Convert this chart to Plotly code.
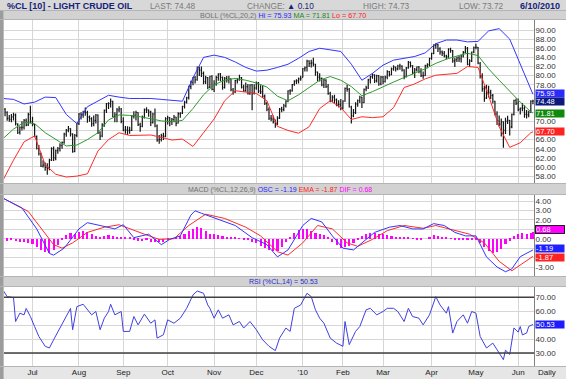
import plotly.graph_objects as go

W, H = 566, 379
def X(p): return p / W
def Y(p): return 1 - p / H

# ---------------- data ----------------
close_px = [
72.68, 72.04, 70.62, 70.47, 71.03, 71.37, 69.55, 67.50, 68.60, 68.67,
70.23, 69.16, 71.49, 69.89, 69.31, 66.73, 64.05, 62.93, 60.14, 60.41,
59.89, 59.69, 61.54, 64.02, 62.02, 63.56, 63.98, 64.72, 65.40, 67.22,
68.05, 68.38, 67.23, 63.35, 66.94, 69.45, 71.58, 71.42, 71.97, 71.94,
70.93, 70.60, 69.45, 70.16, 71.36, 67.51, 66.75, 69.19, 72.42, 73.89,
73.89, 74.37, 71.05, 71.43, 72.49, 72.74, 69.96, 68.05, 68.05, 67.96,
68.02, 71.10, 71.31, 71.94, 69.29, 68.86, 70.93, 72.51, 72.47, 72.04,
69.71, 71.55, 68.97, 65.89, 66.02, 66.84, 66.71, 70.61, 70.82, 69.95,
70.41, 70.88, 69.57, 71.69, 71.77, 73.27, 74.15, 75.18, 77.58, 78.53,
79.61, 79.09, 81.37, 81.19, 80.50, 78.68, 79.55, 77.46, 79.87, 77.00,
78.13, 79.60, 80.40, 79.62, 77.43, 79.43, 79.05, 79.28, 76.94, 76.35,
78.90, 79.14, 79.58, 77.46, 76.72, 77.56, 76.02, 77.96, 76.05, 77.28,
78.37, 76.60, 76.46, 75.47, 73.93, 72.62, 70.67, 70.54, 69.87, 69.51,
70.69, 72.66, 72.58, 73.36, 74.40, 76.67, 76.67, 78.05, 78.77, 78.87,
79.28, 79.36, 81.51, 81.77, 83.18, 82.66, 82.75, 82.52, 80.79, 79.65,
79.39, 78.00, 79.02, 77.62, 76.08, 74.54, 75.26, 74.71, 73.67, 73.64,
72.89, 74.43, 77.23, 76.98, 73.14, 71.19, 71.89, 73.75, 74.52, 75.28,
74.13, 77.01, 77.33, 79.06, 79.81, 80.16, 78.86, 80.00, 78.17, 79.66,
78.70, 79.68, 80.87, 80.21, 81.50, 81.87, 81.49, 82.09, 82.11, 81.24,
79.80, 81.70, 82.93, 82.20, 80.68, 81.25, 81.91, 80.91, 80.00, 80.00,
82.17, 82.37, 83.76, 84.87, 86.62, 86.84, 85.88, 85.17, 84.92, 84.34,
84.05, 85.84, 85.51, 83.24, 83.45, 83.85, 83.68, 84.30, 85.12, 86.00,
82.45, 83.22, 85.17, 86.15, 86.19, 82.74, 79.97, 77.11, 75.11, 76.80,
76.37, 75.65, 74.39, 71.61, 70.08, 69.41, 69.87, 68.01, 70.04, 70.21,
68.75, 71.51, 74.55, 73.97, 72.58, 72.86, 72.86, 71.51, 71.44, 71.99,
74.38, 74.48]

open_px = [
71.30, 72.60, 71.90, 70.70, 70.40, 70.90, 71.40, 69.40, 67.60, 68.60,
68.70, 70.20, 69.20, 71.50, 69.90, 69.30, 66.70, 64.10, 62.90, 60.20,
60.40, 59.90, 59.70, 61.50, 64.00, 62.00, 63.60, 64.00, 64.70, 65.40,
67.20, 68.00, 68.40, 67.20, 63.40, 66.90, 69.50, 71.60, 71.40, 72.00,
71.90, 70.90, 70.60, 69.50, 70.20, 71.40, 67.50, 66.80, 69.20, 72.40,
73.90, 73.90, 74.40, 71.10, 71.40, 72.50, 72.70, 70.00, 68.10, 68.10,
68.00, 68.00, 71.10, 71.30, 71.90, 69.30, 68.90, 70.90, 72.50, 72.50,
72.00, 69.70, 71.60, 69.00, 65.90, 66.00, 66.80, 66.70, 70.60, 70.80,
70.00, 70.40, 70.90, 69.60, 71.70, 71.80, 73.30, 74.20, 75.20, 77.60,
78.50, 79.60, 79.10, 81.40, 81.20, 80.50, 78.70, 79.60, 77.50, 79.90,
77.00, 78.10, 79.60, 80.40, 79.60, 77.40, 79.40, 79.10, 79.30, 76.90,
76.40, 78.90, 79.10, 79.60, 77.50, 76.70, 77.60, 76.00, 78.00, 76.10,
77.30, 78.40, 76.60, 76.50, 75.50, 73.90, 72.60, 70.70, 70.50, 69.90,
69.50, 70.70, 72.70, 72.60, 73.40, 74.40, 76.70, 76.70, 78.10, 78.80,
78.90, 79.30, 79.60, 81.50, 81.80, 83.20, 82.70, 82.80, 82.50, 80.80,
79.70, 79.40, 78.00, 79.00, 77.60, 76.10, 74.50, 75.30, 74.70, 73.70,
73.60, 72.90, 74.40, 77.20, 77.00, 73.10, 71.20, 71.90, 73.80, 74.50,
75.30, 74.10, 77.00, 77.30, 79.10, 79.80, 80.20, 78.90, 80.00, 78.20,
79.70, 78.70, 79.70, 80.90, 80.20, 81.50, 81.90, 81.50, 82.10, 82.10,
81.20, 79.80, 81.70, 82.90, 82.20, 80.70, 81.30, 81.90, 80.90, 80.00,
80.00, 82.20, 82.40, 83.80, 84.90, 86.60, 86.80, 85.90, 85.20, 84.90,
84.30, 84.10, 85.80, 85.50, 83.20, 83.50, 83.90, 83.70, 84.30, 85.10,
86.00, 82.50, 83.20, 85.20, 86.20, 86.20, 82.70, 80.00, 77.10, 75.10,
76.80, 76.40, 75.70, 74.40, 71.60, 70.10, 69.40, 69.90, 68.00, 70.00,
70.20, 68.80, 71.50, 74.60, 74.00, 72.60, 72.90, 72.90, 71.50, 71.40,
72.00, 74.40]

high_px = [
73.20, 72.90, 72.20, 71.40, 71.60, 71.90, 71.70, 69.60, 68.90, 70.00,
70.50, 70.60, 71.90, 73.40, 71.00, 69.40, 66.90, 64.80, 63.10, 61.50,
61.00, 60.80, 61.80, 64.30, 64.50, 63.80, 64.40, 65.20, 65.60, 67.50,
68.30, 69.00, 68.50, 67.40, 67.20, 69.70, 71.80, 72.00, 72.30, 73.00,
72.30, 71.30, 70.90, 71.30, 71.60, 71.50, 67.80, 69.60, 72.60, 74.00,
74.20, 75.00, 74.50, 72.00, 72.90, 73.30, 72.90, 70.90, 69.00, 68.90,
68.80, 71.40, 72.20, 72.30, 72.00, 69.70, 71.30, 72.80, 73.10, 72.60,
72.30, 71.90, 72.80, 69.30, 67.00, 67.30, 67.50, 70.90, 71.20, 70.90,
70.70, 71.40, 71.00, 72.00, 72.00, 73.40, 74.50, 75.40, 77.80, 78.90,
79.70, 79.90, 82.00, 82.00, 82.00, 80.90, 80.00, 79.70, 80.00, 80.10,
79.00, 80.00, 80.50, 80.60, 79.80, 79.70, 79.90, 80.00, 79.40, 77.30,
79.10, 79.50, 80.20, 79.70, 78.00, 78.50, 78.20, 78.10, 78.20, 78.10,
78.70, 78.60, 77.90, 77.80, 75.90, 74.30, 73.10, 71.40, 71.30, 70.40,
71.10, 72.90, 73.20, 73.80, 74.60, 76.80, 77.00, 78.20, 79.00, 79.20,
79.60, 80.00, 81.70, 82.00, 83.50, 83.40, 83.50, 83.90, 82.60, 80.90,
80.50, 79.60, 79.30, 79.20, 78.20, 76.50, 75.70, 75.80, 75.00, 74.60,
74.90, 74.60, 77.40, 78.00, 77.30, 73.40, 72.70, 74.20, 74.80, 75.60,
75.40, 77.20, 77.80, 79.30, 80.00, 80.50, 80.30, 80.20, 80.10, 79.90,
79.90, 80.00, 81.20, 81.00, 81.80, 82.30, 82.00, 82.40, 82.60, 82.30,
81.40, 81.90, 83.20, 83.10, 82.30, 81.70, 82.00, 82.10, 81.60, 80.90,
82.40, 82.70, 83.90, 85.00, 86.90, 87.10, 87.00, 86.20, 85.50, 85.40,
84.60, 86.00, 86.10, 85.60, 83.90, 84.20, 84.30, 84.60, 85.40, 86.50,
86.30, 83.60, 85.30, 86.40, 87.00, 86.30, 83.00, 80.50, 77.80, 78.00,
77.80, 76.90, 76.00, 74.50, 72.20, 71.30, 70.60, 70.00, 70.80, 71.20,
70.30, 71.70, 74.70, 75.00, 75.00, 73.00, 74.00, 73.50, 72.50, 72.30,
74.60, 74.73]

low_px = [
71.00, 71.10, 70.10, 69.90, 69.80, 70.20, 69.10, 67.20, 67.10, 68.00,
68.20, 68.90, 69.00, 69.60, 68.90, 66.50, 63.80, 62.50, 60.00, 59.90,
59.20, 58.30, 59.30, 61.30, 61.30, 61.50, 62.90, 63.40, 64.00, 65.10,
66.60, 67.60, 66.70, 63.10, 63.20, 66.50, 69.20, 70.40, 70.80, 71.20,
69.70, 69.90, 68.80, 68.90, 69.50, 67.20, 65.90, 66.50, 68.80, 71.80,
72.70, 73.00, 70.90, 69.80, 69.80, 72.00, 69.60, 67.80, 67.30, 67.00,
67.30, 67.90, 70.60, 70.20, 69.00, 67.70, 68.70, 70.60, 71.80, 71.00,
69.00, 69.50, 68.70, 65.50, 65.10, 65.60, 65.90, 66.50, 69.30, 68.90,
69.20, 69.80, 68.90, 69.50, 70.80, 71.60, 72.80, 73.90, 74.80, 77.00,
77.90, 78.30, 78.90, 79.90, 79.70, 78.10, 78.20, 77.00, 77.30, 76.80,
76.40, 77.80, 78.90, 78.80, 76.90, 77.20, 78.50, 78.30, 76.60, 75.80,
76.20, 78.30, 78.90, 77.20, 76.40, 76.50, 75.90, 75.80, 72.40, 75.90,
76.90, 76.20, 76.00, 75.10, 73.60, 72.20, 70.30, 70.00, 69.50, 68.60,
69.20, 70.50, 72.00, 72.20, 73.00, 74.20, 75.80, 76.50, 77.80, 78.20,
78.30, 78.90, 79.60, 80.90, 80.90, 81.90, 81.80, 82.00, 80.00, 78.80,
78.70, 77.70, 77.30, 77.30, 75.80, 74.20, 74.30, 73.90, 73.30, 73.00,
72.40, 72.60, 74.30, 76.50, 73.00, 69.50, 70.90, 71.60, 73.20, 74.00,
72.90, 74.00, 76.60, 77.10, 78.30, 79.30, 78.40, 78.50, 77.80, 77.90,
78.10, 78.50, 79.20, 79.80, 80.10, 81.10, 80.90, 81.20, 81.30, 80.90,
79.20, 79.60, 81.50, 81.80, 80.30, 79.50, 80.90, 80.50, 79.70, 79.30,
79.90, 81.60, 82.10, 83.50, 84.70, 85.90, 85.20, 84.60, 84.30, 84.00,
83.60, 83.90, 85.00, 82.80, 81.90, 83.00, 83.00, 82.90, 84.00, 84.90,
82.30, 81.90, 83.00, 84.90, 85.80, 82.50, 79.40, 76.50, 74.30, 74.90,
75.20, 74.90, 73.90, 71.30, 69.20, 68.90, 66.70, 64.20, 67.20, 69.40,
66.90, 68.50, 71.30, 73.60, 72.20, 71.50, 72.20, 70.80, 70.60, 70.90,
71.90, 73.72]

days = list(range(len(close_px)))

# Bollinger band readings (every 5 trading days)
band_day = [0, 5, 10, 15, 20, 25, 30, 35, 40, 45, 50, 55, 60, 65, 70, 75, 80, 85, 90, 95,
            100, 105, 110, 115, 120, 125, 130, 135, 140, 145, 150, 155, 160, 165, 170, 175,
            180, 185, 190, 195, 200, 205, 210, 215, 220, 225, 230, 235, 240, 245, 250, 251]
boll_hi = [75.0, 74.8, 73.8, 74.2, 75.3, 75.2, 71.5, 69.5, 73.2, 74.5, 75.7, 75.3, 75.0, 75.0,
           75.0, 74.8, 74.6, 74.4, 79.5, 84.0, 84.5, 84.0, 83.0, 81.8, 81.0, 81.2, 81.8, 82.5,
           83.8, 85.3, 86.0, 85.6, 85.3, 82.5, 79.0, 80.5, 82.3, 83.4, 83.8, 84.2, 85.0, 87.0,
           87.8, 87.8, 87.4, 87.5, 89.8, 90.3, 88.0, 82.5, 77.0, 75.93]
boll_ma = [66.2, 68.3, 69.8, 69.5, 67.5, 66.0, 64.6, 64.8, 66.0, 67.5, 70.3, 71.4, 71.3, 71.0,
           70.6, 70.1, 69.9, 70.2, 72.8, 75.8, 78.0, 79.0, 79.4, 79.0, 78.4, 77.5, 75.5, 74.5,
           75.8, 77.5, 79.0, 79.8, 79.0, 77.6, 75.6, 76.5, 77.6, 78.6, 79.6, 80.5, 81.5, 82.7,
           83.6, 84.3, 84.9, 84.4, 81.5, 79.0, 76.5, 74.2, 72.1, 71.81]
boll_lo = [57.1, 61.5, 65.5, 66.8, 60.5, 58.4, 57.8, 58.0, 58.5, 63.5, 66.0, 67.5, 66.9, 67.0,
           67.0, 66.5, 65.9, 66.1, 64.5, 67.5, 70.5, 74.5, 76.7, 76.4, 76.1, 74.5, 68.9, 68.0,
           67.4, 68.8, 72.8, 74.5, 73.0, 70.4, 71.0, 70.8, 71.0, 73.0, 77.4, 78.2, 79.3, 80.1,
           80.3, 80.5, 82.0, 81.8, 75.6, 68.8, 64.3, 65.3, 67.5, 67.70]

# MACD readings
osc_day = [0, 1, 9, 16, 22, 24, 29, 36, 40, 46, 53, 57, 62, 69, 75, 79, 84, 89, 91, 94, 101,
           110, 118, 125, 130, 135, 142, 146, 151, 156, 161, 166, 171, 176, 183, 188, 194, 199,
           204, 209, 214, 219, 224, 229, 234, 238, 241, 245, 251]
osc = [4.3, 4.19, 3.26, 1.04, -1.56, -1.74, -1.0, 1.04, 1.7, 1.4, 1.04, 1.48, 0.11, 0.48, -0.63,
       -0.07, 0.3, 2.5, 2.96, 2.7, 2.15, 1.4, 0.11, -0.63, -1.93, -1.19, 1.4, 2.15, 1.78, 0.3,
       -1.0, -1.19, -0.26, 0.67, 1.22, 1.4, 1.04, 1.04, 1.6, 1.4, 0.67, 0.3, 0.3, -1.93, -3.0,
       -3.5, -3.2, -1.9, -1.19]
ema_day = [0, 1, 12, 17, 24, 28, 33, 40, 48, 55, 60, 67, 74, 81, 88, 96, 105, 115, 122, 130,
           135, 142, 149, 156, 163, 168, 175, 182, 190, 199, 205, 214, 221, 228, 235, 241, 246, 251]
ema = [4.3, 4.19, 2.89, 1.41, -0.63, -1.0, -0.44, 0.67, 1.22, 1.48, 1.04, 0.48, -0.07, 0.0, 1.4,
       2.6, 2.15, 1.22, 0.3, -1.37, -1.74, -0.44, 1.4, 1.04, -0.44, -0.81, -0.07, 0.85, 1.4,
       1.11, 1.4, 0.85, 0.48, -0.44, -2.4, -3.4, -2.6, -1.87]
dif_day = list(range(0, 251, 2)) + [251]
dif = [-0.15, -0.2, -0.15, -0.25, -0.3, -0.4, -0.45, -0.6, -0.9, -1.2, -1.45, -1.5, -1.2, -0.7,
       -0.1, 0.4, 0.65, 0.55, 0.7, 0.85, 0.7, 0.45, 0.3, 0.2, 0.25, 0.35, 0.3, 0.15, 0.2, 0.15,
       0.1, -0.1, -0.2, -0.25, -0.15, -0.3, -0.35, -0.4, -0.3, -0.1, 0.05, 0.1, 0.25, 0.5, 0.8,
       1.05, 1.2, 1.1, 0.8, 0.55, 0.45, 0.35, 0.3, 0.2, 0.15, 0.1, 0.05, -0.05, -0.15, -0.3,
       -0.5, -0.75, -0.95, -1.2, -1.35, -1.3, -0.9, -0.4, 0.2, 0.6, 0.9, 1.05, 1.0, 0.8, 0.6,
       0.45, 0.35, 0.1, -0.3, -0.7, -0.95, -0.9, -0.8, -0.5, -0.1, 0.3, 0.55, 0.65, 0.6, 0.55,
       0.45, 0.35, 0.3, 0.2, 0.15, 0.1, 0.1, 0.05, -0.1, -0.15, 0.0, 0.2, 0.35, 0.3, 0.2, 0.1,
       0.05, -0.1, -0.1, -0.05, -0.1, -0.05, -0.1, -0.45, -0.9, -1.3, -1.5, -1.45, -1.1, -0.6,
       -0.2, 0.3, 0.55, 0.6, 0.55, 0.65, 0.68]

# RSI readings
rsi_day = [0, 2, 5, 6, 8, 10, 11, 13, 15, 17, 20, 22, 24, 27, 30, 32, 33, 35, 38, 42, 44, 46,
           48, 50, 51, 53, 56, 57, 60, 62, 64, 67, 70, 72, 73, 76, 78, 81, 84, 87, 90, 92, 95,
           97, 98, 100, 102, 104, 107, 109, 112, 114, 117, 120, 123, 126, 129, 131, 134, 136,
           138, 141, 144, 146, 148, 150, 152, 155, 158, 161, 162, 164, 167, 169, 172, 174, 177,
           180, 182, 185, 187, 190, 192, 194, 197, 199, 202, 205, 207, 210, 211, 213, 215, 218,
           220, 222, 224, 226, 229, 232, 234, 236, 237, 238, 239, 240, 242, 244, 245, 246, 248,
           249, 251]
rsi = [75.2, 70.5, 69.8, 52.6, 58.6, 57.4, 62.0, 56.2, 49.0, 41.9, 34.8, 33.6, 39.5, 47.9, 57.4,
       62.0, 46.7, 63.3, 65.0, 57.4, 59.8, 46.7, 55.0, 59.8, 65.0, 57.4, 59.8, 45.5, 45.5, 56.2,
       50.2, 57.9, 51.4, 53.8, 40.7, 43.1, 53.8, 51.4, 55.0, 62.1, 71.7, 74.5, 72.9, 64.5, 62.1,
       55.0, 61.0, 55.0, 57.4, 50.2, 52.6, 47.9, 52.6, 46.7, 39.5, 34.8, 31.7, 40.7, 47.9, 45.5,
       62.1, 64.5, 72.9, 70.5, 61.0, 55.0, 51.4, 40.7, 37.1, 34.8, 52.6, 36.0, 45.5, 49.0, 61.0,
       62.1, 57.4, 59.8, 62.1, 62.1, 59.8, 52.6, 62.1, 56.2, 55.0, 50.2, 57.4, 70.5, 64.5, 58.6,
       63.3, 44.3, 52.6, 57.4, 51.4, 59.8, 58.6, 41.9, 33.6, 37.1, 32.4, 27.0, 25.2, 32.0, 30.5,
       29.0, 48.0, 45.0, 49.0, 43.0, 44.3, 49.0, 50.53]

month_day = [14, 36, 57, 78, 100, 120, 142, 161, 180, 203, 224, 244]
month_lbl = ["Jul", "Aug", "Sep", "Oct", "Nov", "Dec", "'10", "Feb", "Mar", "Apr", "May", "Jun"]

price_ticks = list(range(58, 92, 2))
price_hidden = {68, 72, 74, 76}
macd_ticks = [-3, -2, -1, 0, 1, 2, 3, 4]
macd_shown = {-3, 0, 2, 3, 4}
rsi_ticks = [30, 40, 50, 60, 70]
rsi_shown = {30, 40, 60, 70}

# ---------------- geometry ----------------
LEFT, RIGHT = 4, 534
P_TOP, P_BOT = 20, 183
M_TOP, M_BOT = 195, 276
R_TOP, R_BOT = 287, 366
FONT = "Arial, Liberation Sans, sans-serif"
GRID = "#d6d6d6"
BLUE, GREEN, RED, MAG, NAVY = "#3434ff", "#1f8a1f", "#ff2a2a", "#ff00ff", "#16237a"

fig = go.Figure()
fig.add_trace(go.Scatter(x=band_day, y=boll_hi, mode="lines", line=dict(color=BLUE, width=1),
                         xaxis="x", yaxis="y", hoverinfo="skip"))
fig.add_trace(go.Scatter(x=band_day, y=boll_ma, mode="lines", line=dict(color="#2e9a2e", width=1),
                         xaxis="x", yaxis="y", hoverinfo="skip"))
fig.add_trace(go.Scatter(x=band_day, y=boll_lo, mode="lines", line=dict(color=RED, width=1),
                         xaxis="x", yaxis="y", hoverinfo="skip"))
fig.add_trace(go.Ohlc(x=days, open=open_px, high=high_px, low=low_px, close=close_px,
                      increasing=dict(line=dict(color="#151515", width=1.2)),
                      decreasing=dict(line=dict(color="#151515", width=1.2)),
                      tickwidth=0.4, xaxis="x", yaxis="y", hoverinfo="skip"))

fig.add_trace(go.Bar(x=dif_day, y=dif, width=1.0, marker=dict(color=MAG, line=dict(width=0)),
                     xaxis="x2", yaxis="y2", hoverinfo="skip"))
fig.add_trace(go.Scatter(x=ema_day, y=ema, mode="lines", line=dict(color=RED, width=1),
                         xaxis="x2", yaxis="y2", hoverinfo="skip"))
fig.add_trace(go.Scatter(x=osc_day, y=osc, mode="lines", line=dict(color=BLUE, width=1),
                         xaxis="x2", yaxis="y2", hoverinfo="skip"))

fig.add_trace(go.Scatter(x=rsi_day, y=rsi, mode="lines", line=dict(color="#4040e0", width=1),
                         xaxis="x3", yaxis="y3", hoverinfo="skip"))

common_x = dict(range=[0.5, 251.5], tickvals=month_day, showgrid=True, gridcolor=GRID,
                gridwidth=1, zeroline=False, showline=False, ticks="", fixedrange=True,
                domain=[X(LEFT), X(RIGHT)])
tickfont = dict(family=FONT, size=8, color="#333333")
common_y = dict(side="right", showgrid=True, gridcolor=GRID, gridwidth=1, zeroline=False,
                showline=True, linecolor="#808080", linewidth=1, ticks="", tickfont=tickfont,
                fixedrange=True, ticklabelstandoff=-1)

fig.update_layout(
    width=W, height=H, margin=dict(l=0, r=0, t=0, b=0),
    paper_bgcolor="#dcdcdc", plot_bgcolor="#ffffff",
    showlegend=False, hovermode=False, bargap=0,
    font=dict(family=FONT, size=8, color="#333333"),
    xaxis=dict(common_x, anchor="y", showticklabels=False, rangeslider=dict(visible=False)),
    xaxis2=dict(common_x, anchor="y2", showticklabels=False, matches="x"),
    xaxis3=dict(common_x, anchor="y3", showticklabels=True, ticktext=month_lbl,
                tickfont=dict(family=FONT, size=8, color="#222222"), matches="x",
                ticklabelstandoff=0),
    yaxis=dict(common_y, anchor="x", domain=[Y(P_BOT), Y(P_TOP)], range=[56.49, 92.19],
               tickvals=price_ticks,
               ticktext=["" if t in price_hidden else f"{t:.2f}" for t in price_ticks]),
    yaxis2=dict(common_y, anchor="x2", domain=[Y(M_BOT), Y(M_TOP)], range=[-3.954, 4.636],
                tickvals=macd_ticks,
                ticktext=[f"{t:.2f}" if t in macd_shown else "" for t in macd_ticks]),
    yaxis3=dict(common_y, anchor="x3", domain=[Y(R_BOT), Y(R_TOP)], range=[20.66, 77.4],
                tickvals=rsi_ticks,
                ticktext=[f"{t:.2f}" if t in rsi_shown else "" for t in rsi_ticks]),
)

shapes = []
def rect(x0, y0, x1, y1, color, layer="below"):
    shapes.append(dict(type="rect", xref="paper", yref="paper", x0=X(x0), x1=X(x1),
                       y0=Y(y1), y1=Y(y0), fillcolor=color, layer=layer, line=dict(width=0)))

# white label zones to the right of each panel
for t, b in [(P_TOP, P_BOT), (M_TOP, M_BOT), (R_TOP, R_BOT)]:
    rect(RIGHT, t, 566, b, "#ffffff")
# header bars
rect(0, 0, 566, 10.5, "#d8d8d8")
rect(4, 10.5, 566, 19.5, "#d2d2d2")
rect(4, 183.5, 566, 194.5, "#d2d2d2")
rect(4, 276.5, 566, 286.5, "#d2d2d2")
rect(4, 366.5, 566, 379, "#e6e6e6")
rect(0, 10.5, 3.5, 379, "#9c9c9c")
for yy in [10.5, 19.5, 183.5, 194.5, 276.5, 286.5, 366.5]:
    shapes.append(dict(type="line", xref="paper", yref="paper", x0=X(0), x1=X(566),
                       y0=Y(yy), y1=Y(yy), line=dict(color="#b4b4b4", width=1), layer="above"))
# RSI 70 / 30 lines
for lvl in (70, 30):
    shapes.append(dict(type="line", xref="paper", yref="y3", x0=X(LEFT), x1=X(RIGHT),
                       y0=lvl, y1=lvl, line=dict(color="#404040", width=1.5), layer="above"))
fig.update_layout(shapes=shapes)

ann = []
def text(x, y, s, size=7.5, color="#666666", anchor="left", bold=False):
    if bold:
        s = f"<b>{s}</b>"
    ann.append(dict(xref="paper", yref="paper", x=X(x), y=Y(y), text=s, showarrow=False,
                    xanchor=anchor, yanchor="middle", font=dict(family=FONT, size=size, color=color)))

text(5, 6, "%CL [10] - LIGHT CRUDE OIL", size=9, color=NAVY, bold=True)
text(148, 6, "LAST: 74.48", size=8.3, color="#7a7a7a")
text(245, 6, "CHANGE: <span style='color:#16237a'>▲ 0.10</span>", size=8.3, color="#7a7a7a")
text(361, 6, "HIGH: 74.73", size=8.3, color="#7a7a7a")
text(457, 6, "LOW: 73.72", size=8.3, color="#7a7a7a")
text(562, 6, "6/10/2010", size=9, color=NAVY, anchor="right", bold=True)
text(283, 15, "BOLL (%CL,20,2) <span style='color:#2424ff'>Hi = 75.93</span> "
     "<span style='color:#138a13'>MA = 71.81</span> <span style='color:#ff2020'>Lo = 67.70</span>",
     size=7.2, color="#707070", anchor="center")
text(280, 189.5, "MACD (%CL,12,26,9) <span style='color:#2424ff'>OSC = -1.19</span> "
     "<span style='color:#ff2020'>EMA = -1.87</span> <span style='color:#ff00ff'>DIF = 0.68</span>",
     size=7, color="#707070", anchor="center")
text(283, 281.5, "RSI (%CL,14) = 50.53", size=7, color="#2a2ad0", anchor="center")
text(547, 372.5, "Daily", size=8, color="#222222", anchor="center")

def tag(val, yref, bg, fg="#ffffff", border=None, shift=0):
    d = dict(xref="paper", yref=yref, x=X(RIGHT + 0.5), y=val, text=f"{val:.2f}",
             showarrow=False, xanchor="left", yanchor="middle", align="left",
             width=28, height=7, bgcolor=bg, borderpad=0, yshift=shift,
             font=dict(family=FONT, size=7.5, color=fg))
    if border:
        d["bordercolor"] = border
        d["borderwidth"] = 1
    ann.append(d)

tag(75.93, "y", "#2b2bff", shift=1)
tag(74.48, "y", "#0c1a80", shift=-1)
tag(71.81, "y", "#0f8a0f")
tag(67.70, "y", "#ff2222")
tag(0.68, "y2", "#ff00ff", border="#202020", shift=2.5)
tag(-1.19, "y2", "#2020ff", shift=1)
tag(-1.87, "y2", "#ff2222", shift=-1)
tag(50.53, "y3", "#1c1cff")

fig.update_layout(annotations=ann)
fig.write_html("out.html", config={"displayModeBar": False},
               post_script="document.body.style.margin='0';document.body.style.overflow='hidden';")
